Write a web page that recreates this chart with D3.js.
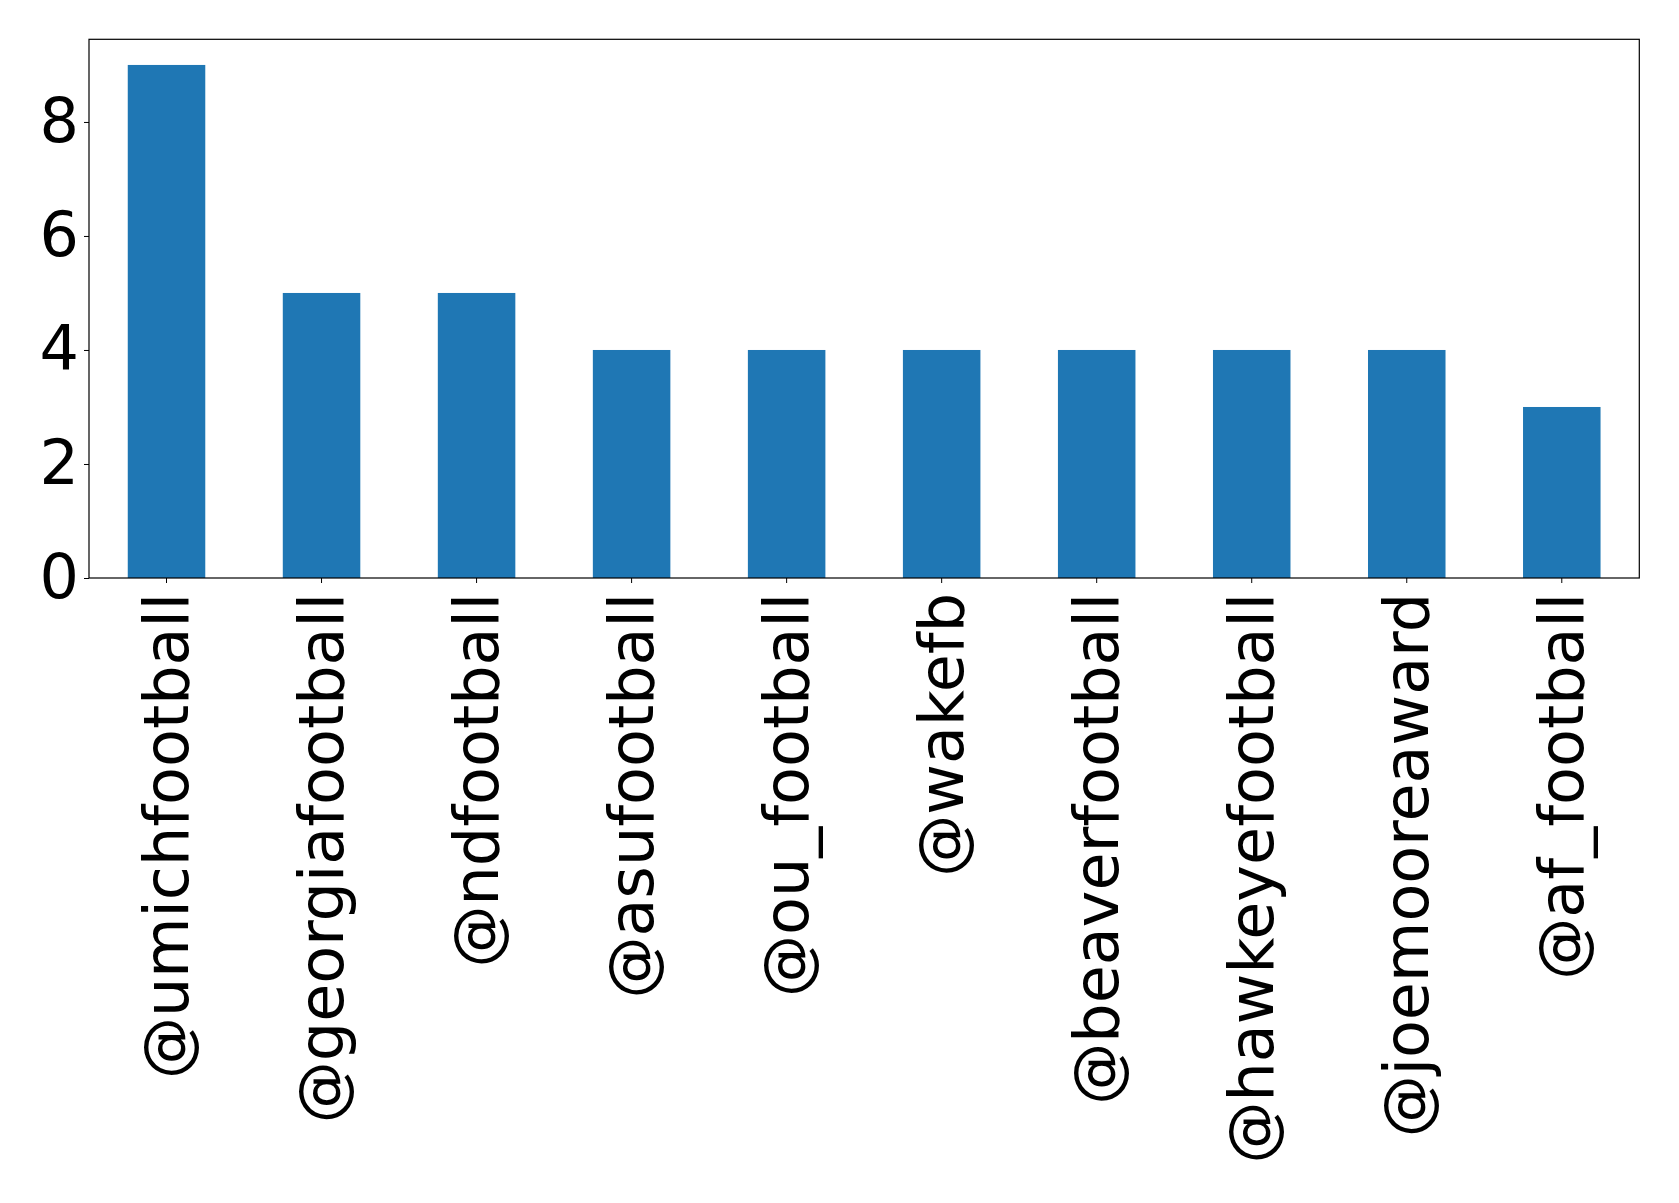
<!DOCTYPE html>
<html><head><meta charset="utf-8">
<script src="https://cdn.jsdelivr.net/npm/d3@7"></script>
<style>body{margin:0;background:#fff}svg text{font-family:"DejaVu Sans";}</style>
</head><body>
<script>
const categories = ["@umichfootball","@georgiafootball","@ndfootball","@asufootball","@ou_football","@wakefb","@beaverfootball","@hawkeyefootball","@joemooreaward","@af_football"];
const values = [9,5,5,4,4,4,4,4,4,3];
const yTicks = [0,2,4,6,8];

const W=1679,H=1203;
const m={left:89,right:1679-1639.3,top:39.3,bottom:1203-578};
const svg=d3.select("body").append("svg").attr("width",W).attr("height",H);
const iw=W-m.left-m.right, ih=H-m.top-m.bottom;
const g=svg.append("g").attr("transform",`translate(${m.left},${m.top})`);
const x=d3.scaleBand().domain(categories).range([0,iw]).paddingInner(0.5).paddingOuter(0.25);
const y=d3.scaleLinear().domain([0,d3.max(values)*1.05]).range([ih,0]);

g.selectAll("rect.bar").data(values).join("rect").attr("class","bar")
 .attr("x",(d,i)=>x(categories[i])).attr("width",x.bandwidth())
 .attr("y",d=>y(d)).attr("height",d=>ih-y(d)).attr("fill","#1f77b4");

const fs=62;
const ya=g.append("g").call(d3.axisLeft(y).tickValues(yTicks).tickSize(5).tickPadding(5).tickFormat(d3.format("d")));
ya.select(".domain").remove();
ya.selectAll("text").attr("font-size",fs).attr("font-family","DejaVu Sans").attr("fill","#000");
const xa=g.append("g").attr("transform",`translate(0,${ih})`).call(d3.axisBottom(x).tickSize(5).tickPadding(8));
xa.select(".domain").remove();
xa.selectAll("text").attr("font-size",fs).attr("font-family","DejaVu Sans").attr("fill","#000")
  .attr("transform","rotate(-90)").attr("text-anchor","end").attr("dy","0.35em").attr("x",-15).attr("y",0);
g.append("rect").attr("width",iw).attr("height",ih).attr("fill","none").attr("stroke","#000").attr("stroke-width",1.2);
</script>
</body></html>
